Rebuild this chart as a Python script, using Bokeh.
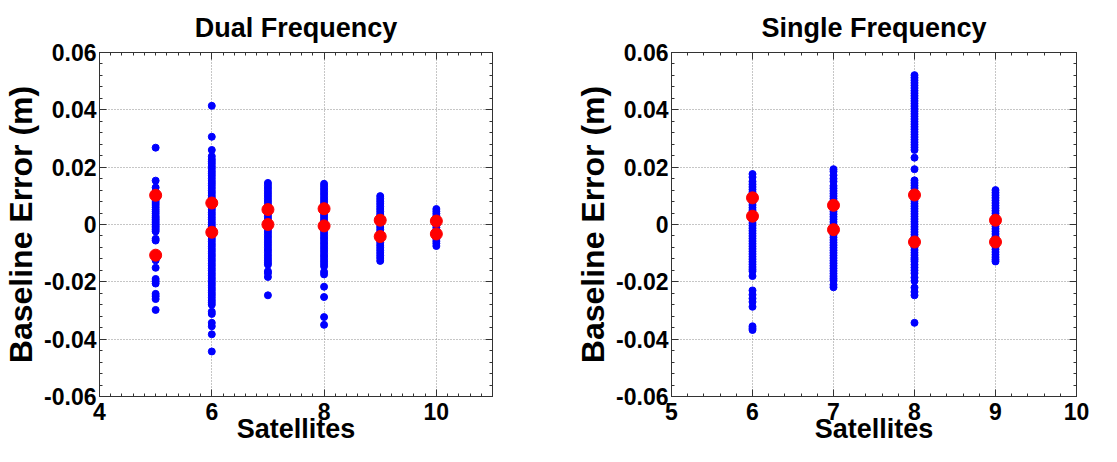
from bokeh.plotting import figure
from bokeh.layouts import row
from bokeh.models import LinearAxis, FixedTicker, Range1d, CustomJSTickFormatter
from bokeh.embed import file_html
from bokeh.resources import INLINE

# ---------------- data ----------------
dual_x5 = [0.0268, 0.0153, 0.0129, 0.0115, 0.0098, 0.0090, 0.0082, 0.0075, 0.0068, 0.0060,
           0.0052, 0.0045, 0.0038, 0.0030, 0.0024, 0.0018, 0.0012, 0.0006, 0.0000, -0.0006,
           -0.0012, -0.0018, -0.0024, -0.0050, -0.0056, -0.0108, -0.0117, -0.0125, -0.0151,
           -0.0190, -0.0198, -0.0206, -0.0242, -0.0250, -0.0260, -0.0298]
dual_x6 = [0.0414, 0.0306, 0.0260, 0.0238, 0.0228, 0.0220, 0.0212, 0.0203, 0.0195, 0.0186,
           0.0178, 0.0170, 0.0161, 0.0152, 0.0144, 0.0136, 0.0127, 0.0118, 0.0110, 0.0101,
           0.0093, 0.0084, 0.0076, 0.0068, 0.0059, 0.0051, 0.0042, 0.0034, 0.0025, 0.0017,
           0.0008, 0.0000, -0.0008, -0.0017, -0.0025, -0.0034, -0.0042, -0.0051, -0.0059,
           -0.0068, -0.0076, -0.0085, -0.0093, -0.0102, -0.0110, -0.0119, -0.0127, -0.0136,
           -0.0144, -0.0153, -0.0161, -0.0170, -0.0178, -0.0187, -0.0195, -0.0204, -0.0212,
           -0.0221, -0.0229, -0.0238, -0.0246, -0.0255, -0.0264, -0.0272, -0.0280, -0.0304,
           -0.0312, -0.0343, -0.0355, -0.0383, -0.0443]
dual_x7 = [0.0145, 0.0136, 0.0127, 0.0118, 0.0109, 0.0100, 0.0091, 0.0082, 0.0073, 0.0064,
           0.0055, 0.0046, 0.0037, 0.0028, 0.0019, 0.0010, 0.0001, -0.0008, -0.0017, -0.0026,
           -0.0035, -0.0044, -0.0053, -0.0062, -0.0071, -0.0080, -0.0089, -0.0098, -0.0107,
           -0.0116, -0.0125, -0.0133, -0.0140, -0.0163, -0.0170, -0.0183, -0.0247]
dual_x8 = [0.0142, 0.0133, 0.0124, 0.0115, 0.0106, 0.0097, 0.0088, 0.0079, 0.0070, 0.0061,
           0.0052, 0.0043, 0.0034, 0.0025, 0.0016, 0.0007, -0.0002, -0.0011, -0.0020, -0.0029,
           -0.0038, -0.0047, -0.0056, -0.0065, -0.0074, -0.0083, -0.0092, -0.0101, -0.0110,
           -0.0119, -0.0128, -0.0137, -0.0146, -0.0165, -0.0174, -0.0217, -0.0253, -0.0323,
           -0.0350]
dual_x9 = [0.0099, 0.0090, 0.0081, 0.0072, 0.0063, 0.0054, 0.0045, 0.0036, 0.0027, 0.0018,
           0.0009, 0.0000, -0.0009, -0.0018, -0.0027, -0.0036, -0.0045, -0.0054, -0.0063,
           -0.0072, -0.0081, -0.0090, -0.0099, -0.0108, -0.0117, -0.0127]
dual_x10 = [0.0054, 0.0046, 0.0038, 0.0030, 0.0022, 0.0014, 0.0006, -0.0002, -0.0010,
            -0.0018, -0.0026, -0.0034, -0.0042, -0.0050, -0.0058, -0.0066, -0.0075]

dual_red_x = [5, 5, 6, 6, 7, 7, 8, 8, 9, 9, 10, 10]
dual_red_y = [0.0102, -0.0107, 0.0075, -0.0027, 0.0052, 0.0000, 0.0055, -0.0005,
              0.0015, -0.0042, 0.0012, -0.0033]

single_x6 = [0.0176, 0.0165, 0.0150, 0.0140, 0.0131, 0.0122, 0.0113, 0.0104, 0.0095, 0.0086,
             0.0077, 0.0068, 0.0059, 0.0050, 0.0041, 0.0032, 0.0023, 0.0014, 0.0005, -0.0004,
             -0.0013, -0.0022, -0.0031, -0.0040, -0.0049, -0.0058, -0.0067, -0.0076, -0.0085,
             -0.0094, -0.0103, -0.0112, -0.0121, -0.0130, -0.0139, -0.0148, -0.0156, -0.0163,
             -0.0180, -0.0230, -0.0245, -0.0258, -0.0270, -0.0287, -0.0355, -0.0362, -0.0368]
single_x7 = [0.0193, 0.0185, 0.0172, 0.0160, 0.0150, 0.0135, 0.0126, 0.0117, 0.0108, 0.0099,
             0.0090, 0.0081, 0.0072, 0.0063, 0.0054, 0.0045, 0.0036, 0.0027, 0.0018, 0.0009,
             0.0000, -0.0009, -0.0018, -0.0027, -0.0036, -0.0045, -0.0054, -0.0063, -0.0072,
             -0.0081, -0.0090, -0.0099, -0.0108, -0.0117, -0.0126, -0.0135, -0.0144, -0.0153,
             -0.0162, -0.0171, -0.0180, -0.0188, -0.0195, -0.0210, -0.0219]
single_x8 = [0.0521, 0.0512, 0.0503, 0.0494, 0.0485, 0.0476, 0.0467, 0.0458, 0.0449, 0.0440,
             0.0431, 0.0422, 0.0413, 0.0404, 0.0395, 0.0386, 0.0377, 0.0368, 0.0359, 0.0350,
             0.0341, 0.0332, 0.0323, 0.0314, 0.0305, 0.0296, 0.0287, 0.0278, 0.0269, 0.0260,
             0.0233, 0.0193, 0.0154, 0.0145, 0.0136, 0.0127, 0.0118, 0.0109, 0.0100, 0.0091,
             0.0082, 0.0073, 0.0064, 0.0055, 0.0046, 0.0037, 0.0028, 0.0019, 0.0010, 0.0001,
             -0.0008, -0.0017, -0.0026, -0.0035, -0.0044, -0.0053, -0.0062, -0.0071, -0.0080,
             -0.0089, -0.0098, -0.0107, -0.0116, -0.0122, -0.0129, -0.0140, -0.0150, -0.0160,
             -0.0170, -0.0185, -0.0197, -0.0220, -0.0235, -0.0247, -0.0343]
single_x9 = [0.0120, 0.0111, 0.0102, 0.0093, 0.0084, 0.0075, 0.0066, 0.0057, 0.0048, 0.0039,
             0.0030, 0.0021, 0.0012, 0.0003, -0.0006, -0.0015, -0.0024, -0.0033, -0.0042,
             -0.0051, -0.0060, -0.0069, -0.0078, -0.0087, -0.0096, -0.0105, -0.0114, -0.0122,
             -0.0129]

single_red_x = [6, 6, 7, 7, 8, 8, 9, 9]
single_red_y = [0.0093, 0.0029, 0.0067, -0.0018, 0.0103, -0.0061, 0.0015, -0.0061]

y_ticks = [-0.06, -0.04, -0.02, 0, 0.02, 0.04, 0.06]
y_tick_labels = {-0.06: "-0.06", -0.04: "-0.04", -0.02: "-0.02", 0: "0",
                 0.02: "0.02", 0.04: "0.04", 0.06: "0.06"}
dual_x_ticks = [4, 6, 8, 10]
single_x_ticks = [5, 6, 7, 8, 9, 10]

FONT = "Liberation Sans"
BLUE = "#0000ff"
RED = "#ff0000"
AX = "#333333"


def make_fig(title, width, left_border, right_border, xr, xticks, x_minor, groups, red_x, red_y):
    p = figure(width=width, height=446, output_backend="svg", toolbar_location=None,
               x_range=Range1d(*xr), y_range=Range1d(-0.06, 0.06),
               min_border_left=left_border, min_border_right=right_border,
               min_border_top=51, min_border_bottom=5, title=title)
    p.title.text_font = FONT
    p.title.text_font_style = "bold"
    p.title.text_font_size = "27px"
    p.title.text_color = "black"
    p.title.align = "center"
    p.title.standoff = 20
    p.outline_line_color = AX
    p.outline_line_width = 1

    for xv, ys in groups:
        p.scatter([xv] * len(ys), ys, size=7, color=BLUE)
    p.scatter(red_x, red_y, size=12, color=RED)

    xt = FixedTicker(ticks=xticks, minor_ticks=x_minor)
    yminor = [round(-0.06 + 0.004 * i, 4) for i in range(31)]
    yt = FixedTicker(ticks=y_ticks, minor_ticks=yminor)

    p.xaxis.ticker = xt
    p.yaxis.ticker = yt
    p.yaxis.major_label_overrides = y_tick_labels
    for ax in (p.xaxis[0], p.yaxis[0]):
        ax.major_tick_in = 7
        ax.major_tick_out = 0
        ax.minor_tick_in = 3
        ax.minor_tick_out = 0
        ax.axis_line_color = AX
        ax.major_tick_line_color = AX
        ax.minor_tick_line_color = AX
        ax.major_label_text_font = FONT
        ax.major_label_text_font_style = "bold"
        ax.major_label_text_font_size = "23px"
        ax.major_label_text_color = "black"
        ax.axis_label_text_font = FONT
        ax.axis_label_text_font_style = "bold"
        ax.axis_label_text_color = "black"
    p.xaxis.axis_label_text_font_size = "27px"
    p.yaxis.axis_label_text_font_size = "32px"
    p.xaxis.axis_label = "Satellites"
    p.yaxis.axis_label = "Baseline Error (m)"
    p.xaxis.major_label_standoff = 6
    p.xaxis.axis_label_standoff = -9
    p.yaxis.major_label_standoff = 3
    p.yaxis.axis_label_standoff = 2

    blank = CustomJSTickFormatter(code="return ''")
    top = LinearAxis(ticker=xt, formatter=blank, major_tick_in=7,
                     major_tick_out=0, minor_tick_in=3, minor_tick_out=0,
                     axis_line_color=AX, major_tick_line_color=AX, minor_tick_line_color=AX,
                     major_label_standoff=0)
    right = LinearAxis(ticker=yt, formatter=blank, major_tick_in=7,
                       major_tick_out=0, minor_tick_in=3, minor_tick_out=0,
                       axis_line_color=AX, major_tick_line_color=AX, minor_tick_line_color=AX,
                       major_label_standoff=0)
    p.add_layout(top, "above")
    p.add_layout(right, "right")

    p.xgrid.ticker = xt
    p.ygrid.ticker = yt
    for g in (p.xgrid[0], p.ygrid[0]):
        g.grid_line_color = "#8c8c8c"
        g.grid_line_dash = "1 2"
        g.grid_line_width = 1
    return p


dual_minor = [round(4 + 0.2 * i, 1) for i in range(36)]
single_minor = [round(5 + 0.2 * i, 1) for i in range(26)]

p1 = make_fig("Dual Frequency", 552, 89, 60, (4, 11), dual_x_ticks, dual_minor,
              [(5, dual_x5), (6, dual_x6), (7, dual_x7), (8, dual_x8), (9, dual_x9), (10, dual_x10)],
              dual_red_x, dual_red_y)
p2 = make_fig("Single Frequency", 549, 119, 25, (5, 10), single_x_ticks, single_minor,
              [(6, single_x6), (7, single_x7), (8, single_x8), (9, single_x9)],
              single_red_x, single_red_y)

layout = row(p1, p2, spacing=0)
open("out.html", "w").write(file_html(layout, INLINE))
